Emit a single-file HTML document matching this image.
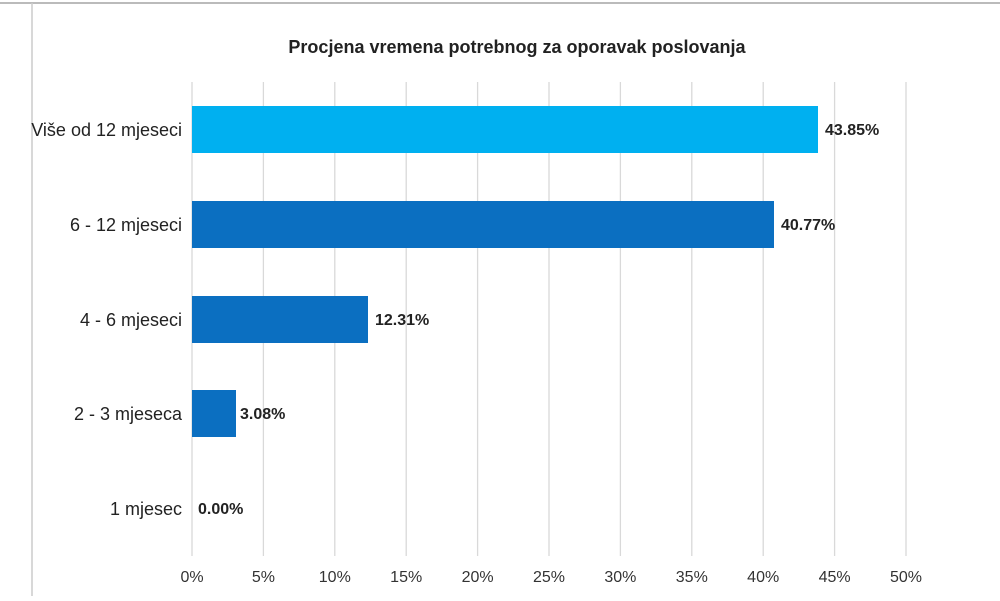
<!DOCTYPE html>
<html><head><style>
body{margin:0;width:1000px;height:596px;background:#fff;overflow:hidden;font-family:"Liberation Sans",sans-serif;}
</style></head><body>
<svg width="1000" height="596" xmlns="http://www.w3.org/2000/svg" font-family="Liberation Sans, sans-serif">
<line x1="0" y1="3" x2="1000" y2="3" stroke="#bbb" stroke-width="2"/>
<line x1="32" y1="3" x2="32" y2="596" stroke="#ccc" stroke-width="1.5"/>
<text x="517" y="53" text-anchor="middle" font-size="18" font-weight="bold" fill="#222">Procjena vremena potrebnog za oporavak poslovanja</text>
<g stroke="#d9d9d9" stroke-width="1.3">
<line x1="192" y1="82" x2="192" y2="556"/><line x1="263.4" y1="82" x2="263.4" y2="556"/>
<line x1="334.8" y1="82" x2="334.8" y2="556"/><line x1="406.2" y1="82" x2="406.2" y2="556"/>
<line x1="477.6" y1="82" x2="477.6" y2="556"/><line x1="549" y1="82" x2="549" y2="556"/>
<line x1="620.4" y1="82" x2="620.4" y2="556"/><line x1="691.8" y1="82" x2="691.8" y2="556"/>
<line x1="763.2" y1="82" x2="763.2" y2="556"/><line x1="834.6" y1="82" x2="834.6" y2="556"/>
<line x1="906" y1="82" x2="906" y2="556"/>
</g>
<rect x="192" y="106" width="626" height="47" fill="#00b0f0"/>
<rect x="192" y="201" width="582" height="47" fill="#0b6fc1"/>
<rect x="192" y="296" width="176" height="47" fill="#0b6fc1"/>
<rect x="192" y="390" width="44" height="47" fill="#0b6fc1"/>
<g font-size="18" fill="#222" text-anchor="end">
<text x="182" y="136">Više od 12 mjeseci</text>
<text x="182" y="231">6 - 12 mjeseci</text>
<text x="182" y="326">4 - 6 mjeseci</text>
<text x="182" y="420">2 - 3 mjeseca</text>
<text x="182" y="515">1 mjesec</text>
</g>
<g font-size="16" font-weight="bold" fill="#222">
<text x="825" y="135">43.85%</text>
<text x="781" y="230">40.77%</text>
<text x="375" y="325">12.31%</text>
<text x="240" y="419">3.08%</text>
<text x="198" y="514">0.00%</text>
</g>
<g font-size="16" fill="#333" text-anchor="middle">
<text x="192" y="582">0%</text><text x="263.4" y="582">5%</text><text x="334.8" y="582">10%</text>
<text x="406.2" y="582">15%</text><text x="477.6" y="582">20%</text><text x="549" y="582">25%</text>
<text x="620.4" y="582">30%</text><text x="691.8" y="582">35%</text><text x="763.2" y="582">40%</text>
<text x="834.6" y="582">45%</text><text x="906" y="582">50%</text>
</g>
</svg>
</body></html>
